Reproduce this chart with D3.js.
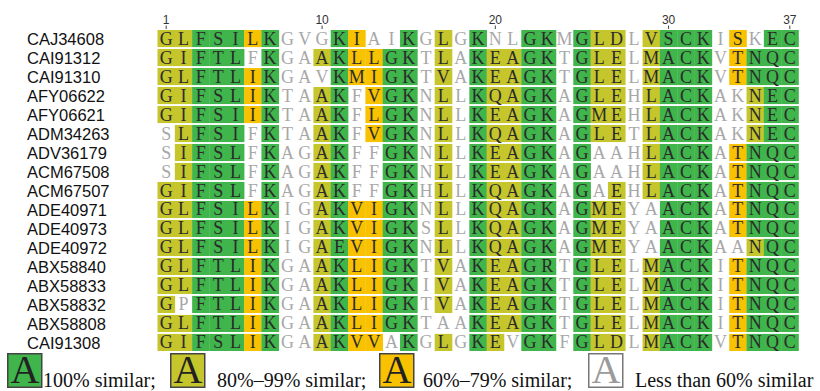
<!DOCTYPE html>
<html>
<head>
<meta charset="utf-8">
<script src="https://cdn.jsdelivr.net/npm/d3@7"></script>
<style>
  body { margin: 0; background: #fff; }
  svg { display: block; }
</style>
</head>
<body>
<svg id="chart" width="820" height="391"></svg>
<script>
// accession ids, one per alignment row
const names = [
  "CAJ34608", "CAI91312", "CAI91310", "AFY06622", "AFY06621", "ADM34263",
  "ADV36179", "ACM67508", "ACM67507", "ADE40971", "ADE40973", "ADE40972",
  "ABX58840", "ABX58833", "ABX58832", "ABX58808", "CAI91308"
];

// aligned residues, 37 positions
const sequences = [
  "GLFSILKGVG" + "KIAIKGLGKN" + "LGKMGLDLVS" + "CKISKEC",
  "GIFTLFKGAA" + "KLLGKTLAKE" + "AGKTGLELMA" + "CKVTNQC",
  "GLFTLIKGAV" + "KMIGKTVAKE" + "AGKTGLELMA" + "CKVTNQC",
  "GIFSLIKTAA" + "KFVGKNLLKQ" + "AGKAGLEHLA" + "CKAKNEC",
  "GIFSIIKTAA" + "KFLGKNLLKE" + "AGKAGMEHLA" + "CKAKNEC",
  "SLFSIFKTAA" + "KFVGKNLLKQ" + "AGKAGLETLA" + "CKAKNEC",
  "SIFSLFKAGA" + "KFFGKNLLKE" + "AGKAGAAHLA" + "CKATNQC",
  "SIFSLFKAGA" + "KFFGKNLLKE" + "AGKAGAAHLA" + "CKATNQC",
  "GIFSLFKAGA" + "KFFGKHLLKQ" + "AGKAGAEHLA" + "CKATNQC",
  "GLFSILKIGA" + "KVIGKNLLKQ" + "AGKAGMEYAA" + "CKATNQC",
  "GLFSILKIGA" + "KVIGKSLLKQ" + "AGKAGMEYAA" + "CKATNQC",
  "GLFSILKIGA" + "EVIGKNLLKQ" + "AGKAGMEYAA" + "CKAANQC",
  "GLFTLIKGAA" + "KLIGKTVAKE" + "AGRTGLELMA" + "CKITNQC",
  "GLFTLIKGAA" + "KLIGKIVAKE" + "AGKTGLELMA" + "CKITNQC",
  "GPFTLIKGAA" + "KLIGKTVAKE" + "AGKTGLELMA" + "CKITNQC",
  "GLFTLIKGAA" + "KLIGKTAAKE" + "AGKTGLELMA" + "CKITNQC",
  "GIFSLIKGAA" + "KVVAKGLGKE" + "VGKFGLDLMA" + "CKVTNQC"
];

// similarity class of each residue: g = 100%, y = 80-99%, o = 60-79%, w = <60%
const similarity = [
  "yygggogwww" + "gowwgwywgw" + "wggwgyywyg" + "ggwowgg",
  "yygggwgwwy" + "googgwywgy" + "yggwgyywyg" + "ggwoggg",
  "yygggogwww" + "googgwywgy" + "yggwgyywyg" + "ggwoggg",
  "yygggogwwy" + "gwoggwywgy" + "yggwgyywyg" + "ggwwygg",
  "yygggogwwy" + "gwoggwywgy" + "yggwgyywyg" + "ggwwygg",
  "wygggwgwwy" + "gwoggwywgy" + "yggwgyywyg" + "ggwwygg",
  "wygggwgwwy" + "gwwggwywgy" + "yggwgwwwyg" + "ggwoggg",
  "wygggwgwwy" + "gwwggwywgy" + "yggwgwwwyg" + "ggwoggg",
  "yygggwgwwy" + "gwwggwywgy" + "yggwgwywyg" + "ggwoggg",
  "yygggogwwy" + "googgwywgy" + "yggwgyywwg" + "ggwoggg",
  "yygggogwwy" + "googgwywgy" + "yggwgyywwg" + "ggwoggg",
  "yygggogwwy" + "googgwywgy" + "yggwgyywwg" + "ggwwygg",
  "yygggogwwy" + "googgwywgy" + "yggwgyywyg" + "ggwoggg",
  "yygggogwwy" + "googgwywgy" + "yggwgyywyg" + "ggwoggg",
  "ywgggogwwy" + "googgwywgy" + "yggwgyywyg" + "ggwoggg",
  "yygggogwwy" + "googgwwwgy" + "yggwgyywyg" + "ggwoggg",
  "yygggogwwy" + "goowgwywgy" + "wggwgyywyg" + "ggwoggg"
];

const positionTicks = [1, 10, 20, 30, 37];

const legendClasses = ["g", "y", "o", "w"];
const legendLabels = ["100% similar;", "80%\u201399% similar;", "60%\u201379% similar;", "Less than 60% similar"];

const fills = { g: "#3fb54b", y: "#c5c52c", o: "#f8c200", w: "#ffffff" };
const inks = { g: "#2b2b2b", y: "#2b2b2b", o: "#2b2b2b", w: "#a8a8a8" };

const svg = d3.select("#chart");

const nPos = sequences[0].length;

const x = d3.scaleBand()
  .domain(d3.range(1, nPos + 1))
  .range([157.5, 798.5]);

const y = d3.scaleBand()
  .domain(names)
  .range([30, 351])
  .paddingInner(0.1);

// flatten into cells
const cells = [];
sequences.forEach((seq, r) => {
  seq.split("").forEach((aa, c) => {
    cells.push({ name: names[r], pos: c + 1, aa: aa, cls: similarity[r][c] });
  });
});

//Position ruler
const ruler = svg.append("g").attr("class", "ruler");
ruler.selectAll("text")
  .data(positionTicks)
  .join("text")
  .attr("x", d => x(d) + x.bandwidth() / 2)
  .attr("y", 24)
  .attr("text-anchor", "middle")
  .style("font-family", "Liberation Sans, Arial, sans-serif")
  .style("font-size", "12px")
  .style("fill", "#333")
  .text(d => d);
ruler.selectAll("line")
  .data(positionTicks)
  .join("line")
  .attr("x1", d => x(d) + x.bandwidth() / 2)
  .attr("x2", d => x(d) + x.bandwidth() / 2)
  .attr("y1", 25.5)
  .attr("y2", 29)
  .style("stroke", "#444")
  .style("stroke-width", 1);

//Row names
svg.append("g")
  .selectAll("text")
  .data(names)
  .join("text")
  .attr("x", 27)
  .attr("y", d => y(d) + y.bandwidth() / 2 + 6.5)
  .style("font-family", "Liberation Sans, Arial, sans-serif")
  .style("font-size", "16.5px")
  .style("fill", "#111")
  .text(d => d);

//Cells
const cellG = svg.append("g");
cellG.selectAll("rect")
  .data(cells.filter(d => d.cls !== "w"))
  .join("rect")
  .attr("x", d => x(d.pos))
  .attr("y", d => y(d.name))
  .attr("width", x.bandwidth() + 0.3)
  .attr("height", y.bandwidth())
  .style("fill", d => fills[d.cls]);

cellG.selectAll("text")
  .data(cells)
  .join("text")
  .attr("x", d => x(d.pos) + x.bandwidth() / 2)
  .attr("y", d => y(d.name) + y.bandwidth() / 2 + 6)
  .attr("text-anchor", "middle")
  .style("font-family", "Liberation Serif, Times New Roman, serif")
  .style("font-size", "18px")
  .style("fill", d => inks[d.cls])
  .text(d => d.aa);

//Legend
const legendX = [7, 170, 379, 588];
const legend = svg.append("g")
  .selectAll("g")
  .data(legendClasses)
  .join("g")
  .attr("transform", (d, i) => `translate(${legendX[i]}, 353)`);

legend.append("rect")
  .attr("x", 0.75)
  .attr("y", 0.75)
  .attr("width", 34)
  .attr("height", 33.5)
  .style("fill", d => fills[d])
  .style("stroke", d => d === "w" ? "#777" : "#444")
  .style("stroke-width", 1.5);

legend.append("text")
  .attr("x", 18)
  .attr("y", 30)
  .attr("text-anchor", "middle")
  .style("font-family", "Liberation Serif, Times New Roman, serif")
  .style("font-size", "40px")
  .style("fill", d => d === "w" ? "#9a9a9a" : "#222")
  .text("A");

const labelOffset = [36, 47, 44, 47];
legend.append("text")
  .attr("x", (d, i) => labelOffset[i])
  .attr("y", 33.5)
  .style("font-family", "Liberation Serif, Times New Roman, serif")
  .style("font-size", "20px")
  .style("fill", "#111")
  .text((d, i) => legendLabels[i]);
</script>
</body>
</html>
